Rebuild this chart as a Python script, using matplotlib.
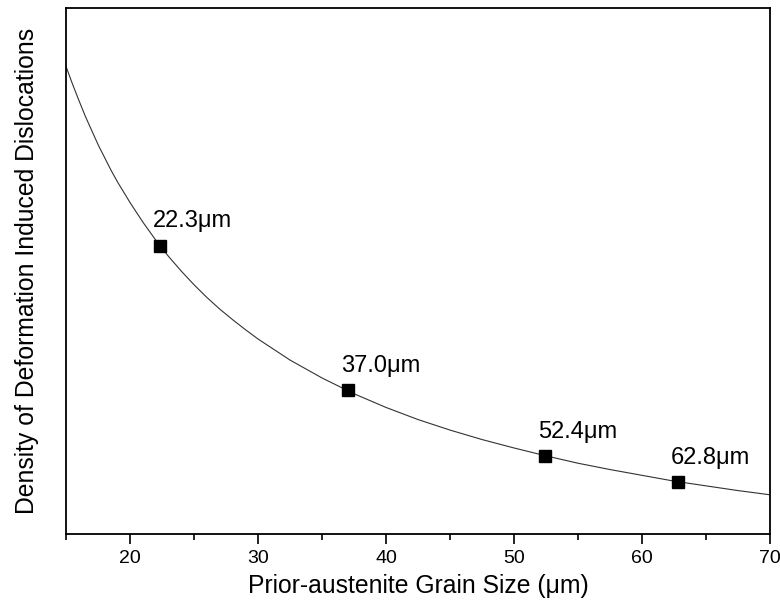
import matplotlib
matplotlib.use('Agg')
import matplotlib.pyplot as plt
from matplotlib.ticker import MultipleLocator

plt.rcParams['font.family'] = ['Liberation Sans', 'DejaVu Sans']

# fitted dislocation density curve (arbitrary units) vs grain size
curve_size = [15, 15.5, 16, 16.5, 17, 17.5, 18, 18.5, 19, 20, 21, 22, 23, 24,
              25, 26, 27, 28, 29, 30, 32.5, 35, 37.5, 40, 42.5, 45, 47.5, 50,
              52.5, 55, 57.5, 60, 62.5, 65, 67.5, 70]
curve_density = [8.87, 8.54, 8.23, 7.93, 7.66, 7.39, 7.15, 6.91, 6.69, 6.29,
                 5.92, 5.58, 5.27, 4.99, 4.73, 4.49, 4.27, 4.07, 3.88, 3.70,
                 3.30, 2.96, 2.66, 2.40, 2.17, 1.97, 1.79, 1.63, 1.48, 1.34,
                 1.22, 1.11, 1.00, 0.91, 0.82, 0.74]

# measured grain sizes
grain_size = [22.3, 37.0, 52.4, 62.8]
grain_density = [5.48, 2.73, 1.48, 0.99]

fig = plt.figure(figsize=(7.8, 6.01), dpi=100)
ax = fig.add_axes([0.085, 0.112, 0.902, 0.875])

ax.plot(curve_size, curve_density, color='#333333', lw=0.8, zorder=2)
ax.plot(grain_size, grain_density, 's', color='black', ms=8, zorder=3)

for x, y in zip(grain_size, grain_density):
    ax.annotate(f'{x:.1f}μm', xy=(x, y), xytext=(-5, 13),
                textcoords='offset points', ha='left', va='baseline',
                fontsize=17)

ax.set_xlim(15, 70)
ax.set_ylim(0, 10)
ax.xaxis.set_major_locator(MultipleLocator(10))
ax.xaxis.set_minor_locator(MultipleLocator(5))
ax.tick_params(axis='x', which='major', direction='out', length=7, width=1.2,
               labelsize=14, pad=5)
ax.tick_params(axis='x', which='minor', direction='out', length=4.5, width=1.2)
ax.tick_params(axis='y', left=False, labelleft=False)
for sp in ax.spines.values():
    sp.set_linewidth(1.3)

ax.set_xlabel('Prior-austenite Grain Size (μm)', fontsize=17.8, labelpad=5)
ax.set_ylabel('Density of Deformation Induced Dislocations', fontsize=17.8,
              labelpad=20)

fig.savefig('out.png', dpi=100)
